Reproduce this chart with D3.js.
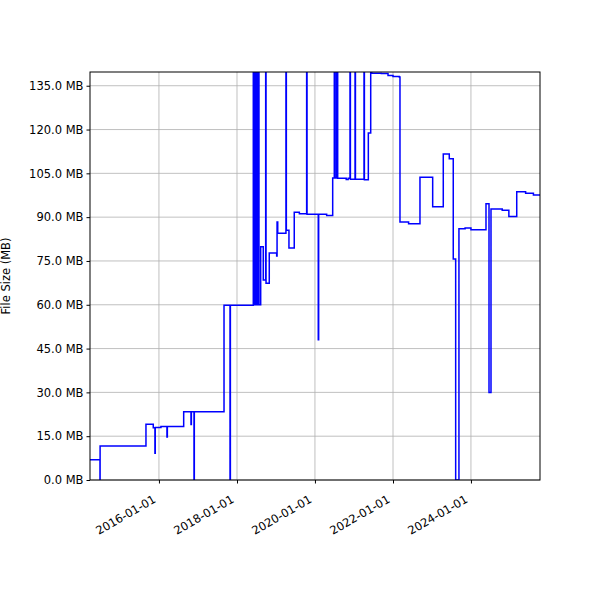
<!DOCTYPE html>
<html><head><meta charset="utf-8">
<script src="https://cdn.jsdelivr.net/npm/d3@7"></script>
<style>body{margin:0;background:#fff}text{font-family:"DejaVu Sans",sans-serif}</style>
</head><body><svg id="c" width="600" height="600"></svg>
<script>
// decimal years
const times = [2014.231,2014.487,2014.49,2015.667,2015.854,2015.897,2015.905,2016.051,2016.205,2016.215,2016.633,2016.82,2016.83,2016.897,2016.905,2017.667,2017.821,2017.83,
2018.418,2018.43,2018.45,2018.47,2018.50,2018.52,2018.55,2018.564,2018.608,2018.674,2018.736,2018.745,2018.828,2019.018,2019.028,2019.045,2019.256,2019.266,2019.333,2019.469,2019.6,2019.787,2019.797,2020.085,2020.095,2020.3,
2020.454,2020.495,2020.51,2020.55,2020.582,2020.8,2020.85,2020.897,2020.907,2021.026,2021.036,2021.256,2021.266,2021.367,2021.428,2021.454,2021.7,2021.872,2022.0,2022.162,
2022.179,2022.4,2022.692,2023.018,2023.29,2023.444,2023.546,2023.608,2023.692,2023.85,2024.0,2024.385,2024.462,2024.513,2024.8,2024.97,2025.172,2025.4,2025.6,2025.769];
const sizes = [6.9,0,11.6,19.1,17.9,9.2,18.0,18.3,14.7,18.3,23.4,19.0,23.4,0,23.4,59.8,0,59.8,
200,60,200,60,200,60,200,60,79.9,68.5,200,67.4,77.7,76.7,88.3,84.5,200,85.5,79.4,91.7,91.2,200,91.0,48,91.0,90.6,
103.4,200,103.4,200,103.3,102.9,103.3,200,103.0,200,103.0,200,102.8,118.8,200,139.3,139.2,138.5,138.2,138.0,
88.3,87.7,103.7,93.6,111.6,110,75.7,0,86,86.3,85.7,94.6,30,92.8,92.4,90.2,98.7,98.2,97.6,97.4];
const yTicks = [0,15,30,45,60,75,90,105,120,135];
const xTickDates = ["2016-01-01","2018-01-01","2020-01-01","2022-01-01","2024-01-01"];

function toDate(y){const yr=Math.floor(y);const a=new Date(Date.UTC(yr,0,1)),b=new Date(Date.UTC(yr+1,0,1));return new Date(+a+(y-yr)*(b-a));}
const data = times.map((t,i)=>({d:toDate(t),v:sizes[i]}));

const L=90,R=540,T=72,B=480;
const svg=d3.select("#c");
const x=d3.scaleUtc().domain([toDate(2014.231),toDate(2025.769)]).range([L,R]);
const y=d3.scaleLinear().domain([0,139.7]).range([B,T]);
const td=xTickDates.map(s=>new Date(s+"T00:00:00Z"));

const g=svg.append("g");
g.selectAll(".gx").data(td).join("line").attr("x1",d=>x(d)).attr("x2",d=>x(d)).attr("y1",T).attr("y2",B).attr("stroke","#b0b0b0").attr("stroke-width",0.8);
g.selectAll(".gy").data(yTicks).join("line").attr("x1",L).attr("x2",R).attr("y1",d=>y(d)).attr("y2",d=>y(d)).attr("stroke","#b0b0b0").attr("stroke-width",0.8);

svg.append("clipPath").attr("id","cp").append("rect").attr("x",L).attr("y",T).attr("width",R-L).attr("height",B-T);
const line=d3.line().x(d=>x(d.d)).y(d=>y(d.v)).curve(d3.curveStepAfter);
svg.append("path").datum(data).attr("clip-path","url(#cp)").attr("d",line).attr("fill","none").attr("stroke","#0000ff").attr("stroke-width",1.5);

svg.append("rect").attr("x",L).attr("y",T).attr("width",R-L).attr("height",B-T).attr("fill","none").attr("stroke","#000").attr("stroke-width",1);

const xa=svg.append("g").attr("transform",`translate(0,${B})`).call(d3.axisBottom(x).tickValues(td).tickFormat(d3.utcFormat("%Y-%m-%d")).tickSizeOuter(0).tickSize(3.5));
xa.select(".domain").remove();
xa.selectAll("text").attr("font-size",11.5).attr("text-anchor","end").attr("dy",0).attr("transform","translate(-6,16) rotate(-30)");
const ya=svg.append("g").attr("transform",`translate(${L},0)`).call(d3.axisLeft(y).tickValues(yTicks).tickFormat(d=>d.toFixed(1)+" MB").tickSizeOuter(0).tickSize(3.5));
ya.select(".domain").remove();
ya.selectAll("text").attr("font-size",11.5).attr("fill","#000");
svg.append("text").attr("transform",`translate(10,${(T+B)/2}) rotate(-90)`).attr("text-anchor","middle").attr("font-size",11.5).text("File Size (MB)");
</script></body></html>
